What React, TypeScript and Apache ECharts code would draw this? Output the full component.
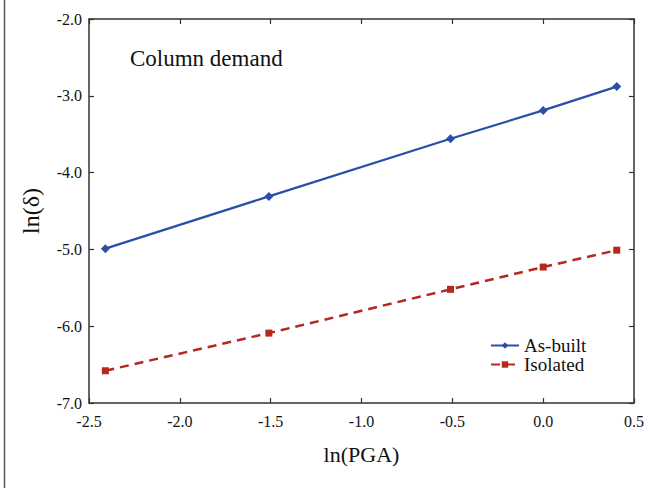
import React, { useEffect, useRef } from "react";
import * as echarts from "echarts";

const lnPGA = [-2.41, -1.51, -0.51, 0.0, 0.405];
const asBuilt = [-4.99, -4.31, -3.56, -3.19, -2.88];
const isolated = [-6.58, -6.09, -5.52, -5.23, -5.01];
const seriesNames = ["As-built", "Isolated"];
const annotation = "Column demand";
const xName = "ln(PGA)";
const yName = "ln(δ)";

const FONT = "Liberation Serif";
const AXIS_COLOR = "#333";

export default function App() {
  const ref = useRef<HTMLDivElement>(null);
  useEffect(() => {
    if (!ref.current) return;
    const chart = echarts.init(ref.current, undefined, { renderer: "svg" });
    const axisLine = { show: true, onZero: false, lineStyle: { color: AXIS_COLOR, width: 1.5 } };
    const axisTick = { show: true, inside: true, length: 5, lineStyle: { color: AXIS_COLOR, width: 1.2 } };
    const label = { color: "#111", fontFamily: FONT, fontSize: 16 };
    chart.setOption({
      animation: false,
      backgroundColor: "#fff",
      textStyle: { fontFamily: FONT },
      grid: { left: 89, right: 17, top: 19, bottom: 85 },
      xAxis: [
        {
          type: "value",
          min: -2.5,
          max: 0.5,
          interval: 0.5,
          position: "bottom",
          axisLine,
          axisTick,
          splitLine: { show: false },
          axisLabel: { ...label, margin: 10, formatter: (v: number) => v.toFixed(1) },
          name: xName,
          nameLocation: "middle",
          nameGap: 40,
          nameTextStyle: { fontFamily: FONT, fontSize: 22, color: "#111" },
        },
        {
          type: "value",
          min: -2.5,
          max: 0.5,
          interval: 0.5,
          position: "top",
          axisLine,
          axisTick,
          splitLine: { show: false },
          axisLabel: { show: false },
        },
      ],
      yAxis: [
        {
          type: "value",
          min: -7,
          max: -2,
          interval: 1,
          position: "left",
          axisLine,
          axisTick,
          splitLine: { show: false },
          axisLabel: { ...label, margin: 7, formatter: (v: number) => v.toFixed(1) },
          name: yName,
          nameLocation: "middle",
          nameGap: 46,
          nameTextStyle: { fontFamily: FONT, fontSize: 24, color: "#111" },
        },
        {
          type: "value",
          min: -7,
          max: -2,
          interval: 1,
          position: "right",
          axisLine,
          axisTick,
          splitLine: { show: false },
          axisLabel: { show: false },
        },
      ],
      legend: {
        orient: "vertical",
        left: 485,
        top: 331,
        itemWidth: 28,
        itemHeight: 8,
        itemGap: 0,
        textStyle: { fontFamily: FONT, fontSize: 19, color: "#111", lineHeight: 17 },
        data: seriesNames,
      },
      series: [
        {
          name: seriesNames[0],
          type: "line",
          data: lnPGA.map((x, i) => [x, asBuilt[i]]),
          symbol: "diamond",
          symbolSize: 9,
          itemStyle: { color: "#2b4fa6" },
          lineStyle: { color: "#2b4fa6", width: 2.2 },
        },
        {
          name: seriesNames[1],
          type: "line",
          data: lnPGA.map((x, i) => [x, isolated[i]]),
          symbol: "rect",
          symbolSize: 7,
          itemStyle: { color: "#b5281d" },
          lineStyle: { color: "#b5281d", width: 2.5, type: [9, 6] },
        },
      ],
      graphic: [
        {
          type: "line",
          shape: { x1: 4.5, y1: 0, x2: 4.5, y2: 488 },
          style: { stroke: "#555", lineWidth: 1.5 },
        },
        {
          type: "text",
          left: 130,
          top: 47,
          style: { text: annotation, font: `23px "${FONT}"`, fill: "#111" },
        },
      ],
    });
    return () => chart.dispose();
  }, []);
  return (
    <div
      ref={ref}
      style={{ position: "fixed", left: 0, top: 0, width: 651, height: 488 }}
    />
  );
}
